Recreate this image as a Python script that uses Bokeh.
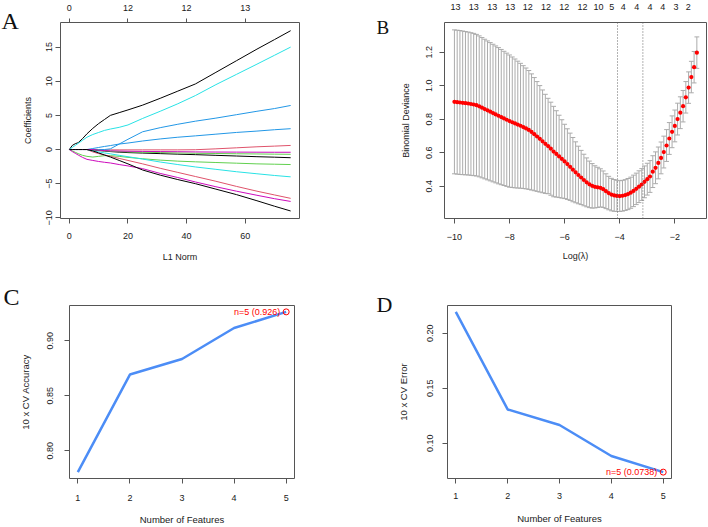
from bokeh.plotting import figure
from bokeh.models import (Range1d, LinearAxis, FixedTicker, CustomJSTickFormatter,
                          Label, ColumnDataSource, Span)
from bokeh.layouts import column, row
from bokeh.embed import file_html
from bokeh.resources import INLINE
from bokeh.core.properties import value

# ---------------- Panel A : coefficient paths ----------------
l1_norm = [0, 1, 2, 3, 4.5, 6, 8, 10, 12, 14, 17, 20, 25, 31, 37, 43, 50, 57, 64, 70, 75.5]
coef_paths = [
    [0, 0.6, 0.85, 1.0, 1.6, 2.3, 3.1, 3.8, 4.4, 5.0, 5.4, 5.8, 6.5, 7.5, 8.55, 9.6, 11.3, 13.0, 14.7, 16.1, 17.4],
    [0, 0, 0, 0, 0, 0, -0.03, -0.05, -0.05, -0.05, -0.05, -0.05, -0.05, -0.05, -0.05, -0.03, 0.1, 0.25, 0.4, 0.5, 0.6],
    [0, -0.2, -0.4, -0.6, -0.85, -1.0, -1.1, -1.0, -0.9, -0.9, -1.0, -1.15, -1.35, -1.55, -1.7, -1.8, -1.9, -2.0, -2.1, -2.15, -2.2],
    [0, 0, 0, 0, 0, 0, 0, 0, 0, 0.1, 0.8, 1.5, 2.6, 3.2, 3.7, 4.15, 4.6, 5.1, 5.6, 6.0, 6.45],
    [0, 0.3, 0.6, 0.9, 1.35, 1.8, 2.2, 2.5, 2.8, 3.0, 3.25, 3.6, 4.55, 5.6, 6.7, 7.9, 9.5, 11.0, 12.5, 13.8, 15.0],
    [0, -0.3, -0.55, -0.8, -1.15, -1.44, -1.6, -1.75, -1.87, -1.97, -2.2, -2.4, -2.8, -3.5, -4.1, -4.75, -5.45, -6.1, -6.7, -7.2, -7.6],
    [0, 0, 0, 0, 0, 0, -0.05, -0.15, -0.22, -0.3, -0.38, -0.45, -0.52, -0.6, -0.68, -0.75, -0.85, -0.95, -1.05, -1.12, -1.2],
    [0, 0, 0, 0, 0, 0, -0.35, -0.6, -0.8, -1.0, -1.3, -1.6, -2.1, -2.75, -3.35, -3.95, -4.65, -5.4, -6.1, -6.65, -7.15],
    [0, 0, 0, 0, 0, 0, -0.05, -0.1, -0.18, -0.25, -0.3, -0.35, -0.4, -0.45, -0.5, -0.55, -0.58, -0.62, -0.65, -0.68, -0.7],
    [0, 0, 0, 0, 0, 0, 0.15, 0.3, 0.45, 0.58, 0.8, 0.95, 1.25, 1.55, 1.8, 2.0, 2.25, 2.5, 2.7, 2.9, 3.05],
    [0, 0, 0, 0, 0, 0, -0.2, -0.35, -0.5, -0.63, -0.85, -1.05, -1.4, -1.83, -2.2, -2.55, -2.9, -3.25, -3.55, -3.8, -4.0],
    [0, 0, 0, 0, 0, 0, 0, -0.1, -0.15, -0.2, -0.22, -0.25, -0.28, -0.3, -0.32, -0.35, -0.37, -0.38, -0.39, -0.4, -0.4],
    [0, 0, 0, 0, 0, 0, -0.2, -0.5, -0.8, -1.1, -1.6, -2.1, -3.0, -3.75, -4.4, -5.0, -5.8, -6.6, -7.5, -8.3, -9.0],
]
path_colors = ["#000000", "#DF536B", "#61D04F", "#2297E6", "#28E2E5", "#CD0BBC"]
a_top_ticks = [0, 20, 40, 60]
a_top_labels = ["0", "12", "12", "13"]
a_x_ticks = [0, 20, 40, 60]
a_y_ticks = [-10, -5, 0, 5, 10, 15]

# ---------------- Panel B : CV binomial deviance ----------------
log_lambda = [
    -10.0, -9.9, -9.8, -9.7, -9.6, -9.5, -9.4, -9.3, -9.2, -9.1,
    -9.0, -8.9, -8.8, -8.7, -8.6, -8.5, -8.4, -8.3, -8.2, -8.1,
    -8.0, -7.9, -7.8, -7.7, -7.6, -7.5, -7.4, -7.3, -7.2, -7.1,
    -7.0, -6.9, -6.8, -6.7, -6.6, -6.5, -6.4, -6.3, -6.2, -6.1,
    -6.0, -5.9, -5.8, -5.7, -5.6, -5.5, -5.4, -5.3, -5.2, -5.1,
    -5.0, -4.9, -4.8, -4.7, -4.6, -4.5, -4.4, -4.3, -4.2, -4.1,
    -4.0, -3.9, -3.8, -3.7, -3.6, -3.5, -3.4, -3.3, -3.2, -3.1,
    -3.0, -2.9, -2.8, -2.7, -2.6, -2.5, -2.4, -2.3, -2.2, -2.1,
    -2.0, -1.9, -1.8, -1.7, -1.6, -1.5, -1.4, -1.3, -1.2,
]
cv_mean = [
    0.904, 0.902, 0.900, 0.898, 0.896, 0.894, 0.891, 0.888, 0.884, 0.877,
    0.869, 0.861, 0.853, 0.845, 0.837, 0.829, 0.821, 0.813, 0.805, 0.797,
    0.789, 0.782, 0.775, 0.768, 0.761, 0.753, 0.745, 0.736, 0.724, 0.711,
    0.697, 0.683, 0.668, 0.653, 0.640, 0.624, 0.607, 0.593, 0.578, 0.563,
    0.548, 0.532, 0.516, 0.499, 0.483, 0.467, 0.452, 0.437, 0.423, 0.411,
    0.402, 0.396, 0.393, 0.390, 0.382, 0.370, 0.359, 0.350, 0.345, 0.342,
    0.341, 0.343, 0.347, 0.353, 0.361, 0.372, 0.384, 0.397, 0.410, 0.426,
    0.442, 0.458, 0.487, 0.510, 0.539, 0.569, 0.604, 0.643, 0.685, 0.725,
    0.760, 0.801, 0.839, 0.878, 0.931, 0.989, 1.052, 1.111, 1.198,
]
cv_sd = [
    0.430, 0.430, 0.430, 0.429, 0.428, 0.427, 0.426, 0.425, 0.423, 0.421,
    0.419, 0.417, 0.415, 0.413, 0.411, 0.409, 0.407, 0.404, 0.401, 0.398,
    0.395, 0.390, 0.385, 0.379, 0.373, 0.367, 0.361, 0.355, 0.347, 0.338,
    0.328, 0.318, 0.307, 0.296, 0.285, 0.278, 0.270, 0.258, 0.246, 0.234,
    0.222, 0.211, 0.201, 0.192, 0.182, 0.172, 0.162, 0.154, 0.146, 0.139,
    0.133, 0.126, 0.120, 0.114, 0.109, 0.104, 0.100, 0.097, 0.095, 0.093,
    0.092, 0.092, 0.092, 0.093, 0.093, 0.094, 0.094, 0.095, 0.095, 0.095,
    0.095, 0.095, 0.095, 0.095, 0.095, 0.095, 0.095, 0.095, 0.095, 0.095,
    0.095, 0.095, 0.095, 0.094, 0.094, 0.094, 0.094, 0.094, 0.094,
]
lambda_min = -4.08
lambda_1se = -3.16
b_top_pos = [-9.96, -9.30, -8.63, -7.97, -7.34, -6.68, -6.01, -5.35,
             -4.77, -4.29, -3.87, -3.38, -2.90, -2.44, -1.96, -1.51]
b_top_labels = ["13", "13", "13", "13", "12", "12", "12", "12",
                "10", "5", "4", "4", "4", "4", "3", "2"]
b_x_ticks = [-10, -8, -6, -4, -2]
b_y_ticks = [0.4, 0.6, 0.8, 1.0, 1.2]

# ---------------- Panels C, D : feature selection ----------------
n_features = [1, 2, 3, 4, 5]
cv_accuracy = [0.7805, 0.8692, 0.8834, 0.9115, 0.9262]
cv_error = [0.2195, 0.1308, 0.1166, 0.0885, 0.0738]
best_n = 5
c_y_ticks = [0.80, 0.85, 0.90]
d_y_ticks = [0.10, 0.15, 0.20]

SANS = "Liberation Sans"
SERIF = "Liberation Serif"
BOX = "#555555"
TXT = "#1a1a1a"


def minus_fmt():
    return CustomJSTickFormatter(code="return tick < 0 ? '\u2212' + Math.abs(tick) : String(tick);")


def fixed_fmt(d):
    return CustomJSTickFormatter(args=dict(d=d), code="return tick.toFixed(d);")


def lookup_fmt(pos, labs):
    return CustomJSTickFormatter(args=dict(pos=pos, labs=labs), code="""
        let best = 0, dd = 1e9;
        for (let i = 0; i < pos.length; i++) {
            const e = Math.abs(pos[i] - tick);
            if (e < dd) { dd = e; best = i; }
        }
        return labs[best];""")


def make_fig(w, h, xr, yr, bl, br, bt, bb, xlabel, ylabel):
    p = figure(width=w, height=h, x_range=Range1d(*xr), y_range=Range1d(*yr),
               output_backend="svg", toolbar_location=None, tools="",
               min_border_left=bl, min_border_right=br, min_border_top=bt,
               min_border_bottom=bb, x_axis_label=xlabel, y_axis_label=ylabel)
    p.xgrid.visible = False
    p.ygrid.visible = False
    p.outline_line_color = BOX
    p.outline_line_width = 1
    p.background_fill_color = "white"
    p.border_fill_color = "white"
    return p


def style_axis(ax, fs_tick, fs_title, standoff, title_standoff):
    ax.axis_line_color = None
    ax.major_tick_line_color = BOX
    ax.major_tick_out = 5
    ax.major_tick_in = 0
    ax.minor_tick_line_color = None
    ax.major_label_text_font = SANS
    ax.major_label_text_font_size = fs_tick
    ax.major_label_text_color = TXT
    ax.major_label_standoff = standoff
    ax.axis_label_text_font = SANS
    ax.axis_label_text_font_style = "normal"
    ax.axis_label_text_font_size = fs_title
    ax.axis_label_text_color = TXT
    ax.axis_label_standoff = title_standoff


def letter(p, txt, px, py, frame, xr, yr, size):
    # placed in the left side panel so that it is not clipped to the frame
    fl, fr, ft, fb = frame
    x = xr[0] + (px - fl) / (fr - fl) * (xr[1] - xr[0])
    y = yr[0] + (fb - py) / (fb - ft) * (yr[1] - yr[0])
    p.add_layout(Label(x=x, y=y, text=txt, text_font=SERIF, text_font_size=size,
                       text_color="#111111", text_align="left", text_baseline="alphabetic"),
                 "left")


# ---------- A ----------
xrA, yrA = (-3.02, 78.52), (-10.1, 18.6)
pA = make_fig(354, 270, xrA, yrA, 60, 55, 20, 51, "L1 Norm", "Coefficients")
pA.xaxis.ticker = FixedTicker(ticks=a_x_ticks)
pA.yaxis.ticker = FixedTicker(ticks=a_y_ticks)
pA.yaxis.formatter = minus_fmt()
pA.yaxis.major_label_orientation = "vertical"
style_axis(pA.xaxis[0], "9px", "9px", 9, 10)
style_axis(pA.yaxis[0], "9px", "9px", 3, 11)
topA = LinearAxis(ticker=FixedTicker(ticks=a_top_ticks), formatter=lookup_fmt(a_top_ticks, a_top_labels))
style_axis(topA, "9px", "9px", 8, 0)
topA.major_tick_out = 4
pA.add_layout(topA, "above")
for i, ys in enumerate(coef_paths):
    pA.line(l1_norm, ys, line_color=path_colors[i % 6], line_width=1)
letter(pA, "A", 1, 18, (60, 299, 20, 219), xrA, yrA, "24px")

# ---------- B ----------
xrB, yrB = (-10.36, -0.85), (0.207, 1.378)
pB = make_fig(354, 270, xrB, yrB, 90, 2, 21, 52, "Log(\u03bb)", "Binomial Deviance")
pB.xaxis.ticker = FixedTicker(ticks=b_x_ticks)
pB.xaxis.formatter = minus_fmt()
pB.yaxis.ticker = FixedTicker(ticks=b_y_ticks)
pB.yaxis.formatter = fixed_fmt(1)
pB.yaxis.major_label_orientation = "vertical"
style_axis(pB.xaxis[0], "9px", "9px", 10, 8)
style_axis(pB.yaxis[0], "9px", "9px", 7, 13)
topB = LinearAxis(ticker=FixedTicker(ticks=b_top_pos), formatter=lookup_fmt(b_top_pos, b_top_labels))
style_axis(topB, "9px", "9px", 13, 0)
topB.major_tick_out = 0
topB.major_tick_line_color = None
pB.add_layout(topB, "above")

upper = [m + s for m, s in zip(cv_mean, cv_sd)]
lower = [m - s for m, s in zip(cv_mean, cv_sd)]
cap = 0.01 * (max(log_lambda) - min(log_lambda))
srcB = ColumnDataSource(dict(x=log_lambda, m=cv_mean, up=upper, lo=lower,
                             xl=[v - cap for v in log_lambda], xr=[v + cap for v in log_lambda]))
pB.segment(x0="x", y0="lo", x1="x", y1="up", source=srcB, line_color="#ABABAB", line_width=1)
pB.segment(x0="xl", y0="up", x1="xr", y1="up", source=srcB, line_color="#ABABAB", line_width=1)
pB.segment(x0="xl", y0="lo", x1="xr", y1="lo", source=srcB, line_color="#ABABAB", line_width=1)
for loc in (lambda_min, lambda_1se):
    pB.add_layout(Span(location=loc, dimension="height", line_color="#666666",
                       line_width=1, line_dash="1 2"))
pB.scatter("x", "m", source=srcB, size=4.2, fill_color="#FF0000", line_color=None)
letter(pB, "B", 376, 26.5, (444, 706, 21, 218), xrB, yrB, "19px")

# ---------- C ----------
xrC, yrC = (0.84, 5.16), (0.7747, 0.932)
pC = make_fig(354, 257, xrC, yrC, 69, 60, 35, 45, "Number of Features", "10 x CV Accuracy")
pC.xaxis.ticker = FixedTicker(ticks=n_features)
pC.yaxis.ticker = FixedTicker(ticks=c_y_ticks)
pC.yaxis.formatter = fixed_fmt(2)
pC.yaxis.major_label_orientation = "vertical"
style_axis(pC.xaxis[0], "9px", "9.5px", 11, 10)
style_axis(pC.yaxis[0], "9px", "9.5px", 11, 14)
pC.line(n_features, cv_accuracy, line_color="#4C8DF6", line_width=2.5)
bi = n_features.index(best_n)
pC.scatter([best_n], [cv_accuracy[bi]], size=6, fill_color=None, line_color="#FF0000", line_width=1)
pC.text([best_n], [cv_accuracy[bi]], text=[f"n={best_n} ({cv_accuracy[bi]:.3g})"],
        text_align="right", text_baseline="middle", x_offset=-6, text_color="#FF0000",
        text_font=value(SANS), text_font_size="9px")
letter(pC, "C", 3, 296, (69, 294, 305, 482), xrC, yrC, "24px")

# ---------- D ----------
xrD, yrD = (0.84, 5.16), (0.068, 0.2253)
pD = make_fig(354, 257, xrD, yrD, 93, 37, 34, 49, "Number of Features", "10 x CV Error")
pD.xaxis.ticker = FixedTicker(ticks=n_features)
pD.yaxis.ticker = FixedTicker(ticks=d_y_ticks)
pD.yaxis.formatter = fixed_fmt(2)
pD.yaxis.major_label_orientation = "vertical"
style_axis(pD.xaxis[0], "9px", "9.5px", 9, 11)
style_axis(pD.yaxis[0], "9px", "9.5px", 9, 16)
pD.line(n_features, cv_error, line_color="#4C8DF6", line_width=2.5)
pD.scatter([best_n], [cv_error[bi]], size=6, fill_color=None, line_color="#FF0000", line_width=1)
pD.text([best_n], [cv_error[bi]], text=[f"n={best_n} ({cv_error[bi]:.3g})"],
        text_align="right", text_baseline="middle", x_offset=-6, text_color="#FF0000",
        text_font=value(SANS), text_font_size="9px")
letter(pD, "D", 376, 303, (447, 671, 304, 478), xrD, yrD, "22px")

layout = column(row(pA, pB), row(pC, pD))
open("out.html", "w").write(file_html(layout, INLINE))
